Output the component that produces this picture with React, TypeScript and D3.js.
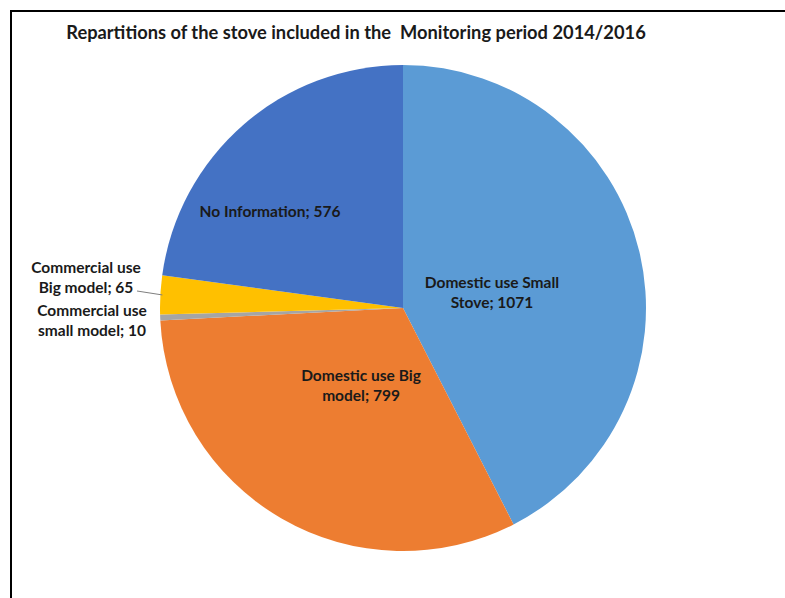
import React from 'react';
import * as d3 from 'd3';

const categories = [
  'Domestic use Small Stove',
  'Domestic use Big model',
  'Commercial use small model',
  'Commercial use Big model',
  'No Information',
];
const counts = [1071, 799, 10, 65, 576];
const colors = ['#5B9BD5', '#ED7D31', '#A5A5A5', '#FFC000', '#4472C4'];

// label lines as Excel wrapped them, and where they sit
const labelLines = [
  ['Domestic use Small', 'Stove; 1071'],
  ['Domestic use Big', 'model; 799'],
  ['Commercial use', 'small model; 10'],
  ['Commercial use', 'Big model; 65'],
  ['No Information; 576'],
];
const labelPos: [number, number][] = [
  [492, 282],
  [361, 375],
  [92, 310],
  [86, 267],
  [270, 211],
];

const W = 785;
const H = 598;
const cx = 403;
const cy = 308;
const r = 243;

const App: React.FC = () => {
  const rows = categories.map((c, i) => ({ name: c, value: counts[i], color: colors[i] }));
  const pie = d3
    .pie<{ name: string; value: number; color: string }>()
    .sort(null)
    .value((d) => d.value);
  const arcs = pie(rows);
  const arc = d3.arc<d3.PieArcDatum<any>>().innerRadius(0).outerRadius(r);

  // leader for the little yellow slice
  const yellow = arcs[3];
  const mid = (yellow.startAngle + yellow.endAngle) / 2;
  const edgeX = cx + Math.sin(mid) * (r - 2);
  const edgeY = cy - Math.cos(mid) * (r - 2);

  return (
    <svg
      width={W}
      height={H}
      style={{ position: 'absolute', left: 0, top: 0, background: '#fff' }}
      fontFamily="Lato, 'Open Sans', sans-serif"
    >
      <rect x={11} y={11} width={W + 20} height={H + 20} fill="none" stroke="#000" strokeWidth={2} />
      <text
        x={356}
        y={39}
        textAnchor="middle"
        fontSize={18.3}
        fontWeight="bold"
        fill="#1a1a1a"
        style={{ whiteSpace: 'pre' }}
      >
        {'Repartitions of the stove included in the  Monitoring period 2014/2016'}
      </text>
      <g transform={`translate(${cx},${cy})`}>
        {arcs.map((a, i) => (
          <path key={i} d={arc(a) as string} fill={a.data.color} />
        ))}
      </g>
      <path d={`M137,291 L${edgeX},${edgeY}`} stroke="#7f7f7f" strokeWidth={1} fill="none" />
      {labelLines.map((lines, i) => (
        <text
          key={i}
          x={labelPos[i][0]}
          y={labelPos[i][1]}
          textAnchor="middle"
          fontSize={15.5}
          fontWeight="bold"
          fill="#1a1a1a"
          dominantBaseline="central"
        >
          {lines.map((l, j) => (
            <tspan key={j} x={labelPos[i][0]} dy={j === 0 ? 0 : 20}>
              {l}
            </tspan>
          ))}
        </text>
      ))}
    </svg>
  );
};

export default App;
